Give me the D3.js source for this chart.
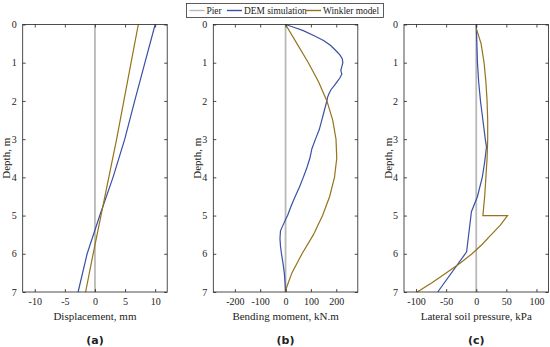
<!DOCTYPE html>
<html>
<head>
<meta charset="utf-8">
<script src="https://cdn.jsdelivr.net/npm/d3@7"></script>
<style>
  body { margin: 0; background: #fff; }
  svg text { font-family: "Liberation Serif", "Times New Roman", serif; fill: #222; }
</style>
</head>
<body>
<div id="chart"></div>
<script>
// series data
var depthA = [0, 1, 2, 3, 4, 5, 6, 7];
var demDisp = [10.0, 8.3, 6.6, 4.95, 3.0, 0.8, -1.3, -2.8];
var winkDisp = [7.2, 6.0, 4.8, 3.6, 2.3, 1.0, -0.3, -1.55];

var depthDemB = [0, 0.08, 0.16, 0.3, 0.42, 0.55, 0.68, 0.8, 0.9, 1.0, 1.1, 1.2, 1.3, 1.4, 1.5, 1.6, 1.7, 1.8, 1.9, 2.0, 2.25, 2.5, 2.75, 3.0, 3.25, 3.5, 3.75, 4.0, 4.25, 4.5, 4.75, 5.0, 5.1, 5.25, 5.4, 5.6, 5.8, 6.0, 6.25, 6.5, 6.75, 7.0];
var demMoment = [0, 35, 70, 115, 150, 178, 198, 215, 224, 226, 222, 218, 222, 214, 203, 192, 180, 172, 166, 163, 153, 143, 133, 118, 104, 96, 84, 70, 55, 38, 22, 8, 0, -10, -20, -22, -20, -16, -10, -5, -2, 0];
var depthWinkB = [0, 0.5, 1, 1.5, 2, 2.5, 3, 3.5, 4, 4.5, 5, 5.5, 6, 6.5, 6.9, 7];
var winkMoment = [0, 45, 90, 130, 163, 186, 199, 202, 193, 174, 146, 110, 65, 25, 3, 0];

var depthDemC = [0, 0.5, 1, 1.5, 2, 2.5, 3, 3.2, 3.6, 4, 4.5, 4.9, 5.95, 7];
var demPressure = [0, 1, 2, 4, 7, 11, 15, 17, 14, 10, 2, -8, -16, -64];
var depthWinkC = [0.1, 0.5, 1, 1.5, 2, 2.5, 3, 3.5, 4, 4.5, 5, 5, 5.25, 5.5, 5.75, 6, 6.25, 6.5, 6.75, 7];
var winkPressure = [0, 8, 13, 16, 18, 19, 19, 18, 16, 14, 11, 52, 40, 25, 10, -7, -27, -50, -73, -98];

var panels = [
  { left: 22.7, domain: [-12, 12], ticks: [-10, -5, 0, 5, 10], title: "Displacement, mm", tag: "(a)",
    dem: d3.zip(depthA, demDisp), wink: d3.zip(depthA, winkDisp) },
  { left: 213.3, domain: [-285, 285], ticks: [-200, -100, 0, 100, 200], title: "Bending moment, kN.m", tag: "(b)",
    dem: d3.zip(depthDemB, demMoment), wink: d3.zip(depthWinkB, winkMoment) },
  { left: 404, domain: [-120, 120], ticks: [-100, -50, 0, 50, 100], title: "Lateral soil pressure, kPa", tag: "(c)",
    dem: d3.zip(depthDemC, demPressure), wink: d3.zip(depthWinkC, winkPressure) }
];

var depthTicks = [0, 1, 2, 3, 4, 5, 6, 7];
var legendNames = ["Pier", "DEM simulation", "Winkler model"];
var colors = { pier: "#b9b9b9", dem: "#3a4fa6", wink: "#96731a" };

var width = 550, height = 347;
var plotW = 144.5, plotTop = 24.5, plotBottom = 292;

var svg = d3.select("#chart").append("svg")
  .attr("width", width)
  .attr("height", height);

var y = d3.scaleLinear().domain([0, 7]).range([plotTop, plotBottom]);
var fmt = function(d) { return String(d); };

panels.forEach(function(p) {
  var x = d3.scaleLinear().domain(p.domain).range([p.left, p.left + plotW]);
  var g = svg.append("g");

  // pier line at zero
  g.append("line")
    .attr("x1", x(0)).attr("x2", x(0))
    .attr("y1", y(0)).attr("y2", y(7))
    .attr("stroke", colors.pier).attr("stroke-width", 1.8);

  var line = d3.line()
    .x(function(d) { return x(d[1]); })
    .y(function(d) { return y(d[0]); });

  g.append("path").datum(p.dem)
    .attr("d", line).attr("fill", "none")
    .attr("stroke", colors.dem).attr("stroke-width", 1.2);
  g.append("path").datum(p.wink)
    .attr("d", line).attr("fill", "none")
    .attr("stroke", colors.wink).attr("stroke-width", 1.2);

  // axes, ticks inside and mirrored
  g.append("g").attr("transform", "translate(0," + plotBottom + ")")
    .call(d3.axisBottom(x).tickValues(p.ticks).tickSizeInner(-3).tickSizeOuter(0).tickPadding(6).tickFormat(fmt))
    .call(styleAxis);
  g.append("g").attr("transform", "translate(0," + plotTop + ")")
    .call(d3.axisTop(x).tickValues(p.ticks).tickSizeInner(-3).tickSizeOuter(0).tickFormat(""))
    .call(styleAxis);
  g.append("g").attr("transform", "translate(" + p.left + ",0)")
    .call(d3.axisLeft(y).tickValues(depthTicks).tickSizeInner(-3).tickSizeOuter(0).tickPadding(6).tickFormat(fmt))
    .call(styleAxis);
  g.append("g").attr("transform", "translate(" + (p.left + plotW) + ",0)")
    .call(d3.axisRight(y).tickValues(depthTicks).tickSizeInner(-3).tickSizeOuter(0).tickFormat(""))
    .call(styleAxis);

  g.append("rect")
    .attr("x", p.left).attr("y", plotTop)
    .attr("width", plotW).attr("height", plotBottom - plotTop)
    .attr("fill", "none").attr("stroke", "#222").attr("stroke-width", 0.8);

  g.append("text")
    .attr("x", p.left + plotW / 2).attr("y", 319.5)
    .attr("text-anchor", "middle").style("font-size", "11px")
    .text(p.title);

  g.append("text")
    .attr("transform", "translate(" + (p.left - 12.5) + "," + ((plotTop + plotBottom) / 2) + ") rotate(-90)")
    .attr("text-anchor", "middle").style("font-size", "11px")
    .text("Depth, m");

  g.append("text")
    .attr("x", p.left + plotW / 2).attr("y", 344)
    .attr("text-anchor", "middle")
    .style("font-size", "11px").style("font-weight", "bold")
    .style("font-family", "'DejaVu Sans', sans-serif")
    .text(p.tag);
});

function styleAxis(sel) {
  sel.select(".domain").remove();
  sel.selectAll(".tick line").attr("stroke", "#222").attr("stroke-width", 0.8);
  sel.selectAll(".tick text").style("font-size", "10px").attr("fill", "#222")
    .style("font-family", "'Liberation Serif', serif");
}

// legend
var leg = svg.append("g");
leg.append("rect")
  .attr("x", 186.5).attr("y", 3.5).attr("width", 197).attr("height", 14)
  .attr("fill", "#fff").attr("stroke", "#333").attr("stroke-width", 0.8);
var legItems = [
  { name: legendNames[0], color: colors.pier, x0: 189.5 },
  { name: legendNames[1], color: colors.dem, x0: 227 },
  { name: legendNames[2], color: colors.wink, x0: 306 }
];
legItems.forEach(function(it) {
  leg.append("line")
    .attr("x1", it.x0).attr("x2", it.x0 + 15)
    .attr("y1", 10.5).attr("y2", 10.5)
    .attr("stroke", it.color).attr("stroke-width", 1.4);
  leg.append("text")
    .attr("x", it.x0 + 17).attr("y", 14)
    .style("font-size", "9.4px")
    .text(it.name);
});
</script>
</body>
</html>
